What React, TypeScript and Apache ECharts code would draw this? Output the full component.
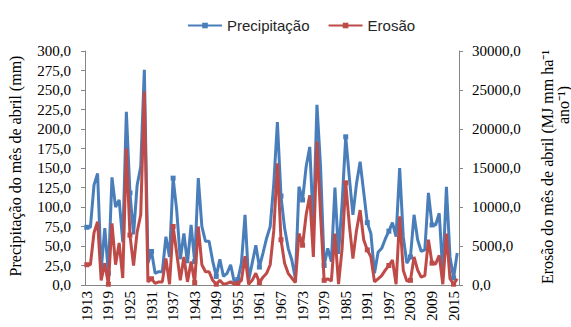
import React, { useEffect, useRef } from "react";
import * as echarts from "echarts";

const years = [
  "1913","1914","1915","1916","1917","1918","1919","1920","1921","1922",
  "1923","1924","1925","1926","1927","1928","1929","1930","1931","1932",
  "1933","1934","1935","1936","1937","1938","1939","1940","1941","1942",
  "1943","1944","1945","1946","1947","1948","1949","1950","1951","1952",
  "1953","1954","1955","1956","1957","1958","1959","1960","1961","1962",
  "1963","1964","1965","1966","1967","1968","1969","1970","1971","1972",
  "1973","1974","1975","1976","1977","1978","1979","1980","1981","1982",
  "1983","1984","1985","1986","1987","1988","1989","1990","1991","1992",
  "1993","1994","1995","1996","1997","1998","1999","2000","2001","2002",
  "2003","2004","2005","2006","2007","2008","2009","2010","2011","2012",
  "2013","2014","2015","2016",
];

// Precipitação do mês de abril (mm)
const precipitacao = [
  74, 74, 128, 143, 19, 73, 15, 138, 100, 109,
  55, 222, 118, 65, 128, 152, 276, 28, 43, 15,
  17, 17, 62, 36, 137, 96, 33, 66, 28, 77,
  30, 137, 75, 56, 56, 31, 11, 33, 11, 15,
  26, 4, 7, 28, 90, 6, 28, 51, 23, 41,
  60, 75, 130, 209, 114, 73, 47, 32, 8, 126,
  109, 152, 177, 75, 231, 152, 25, 47, 30, 125,
  40, 105, 190, 138, 90, 130, 158, 119, 80, 66,
  15, 42, 47, 59, 69, 80, 62, 150, 62, 28,
  36, 90, 58, 43, 45, 118, 77, 77, 92, 15,
  126, 36, 9, 41,
];

// Erosão do mês de abril (MJ mm ha-1 ano-1)
const erosao = [
  2600, 2600, 6700, 8100, 600, 2800, 100, 7900, 2600, 5400,
  900, 17500, 6400, 2500, 6800, 9000, 24800, 400, 800, 200,
  400, 400, 3400, 100, 7500, 4100, 600, 3600, 400, 3000,
  300, 7500, 2600, 1700, 1700, 600, 100, 600, 100, 200,
  400, 100, 200, 600, 3700, 100, 600, 1500, 300, 1000,
  1500, 2600, 7000, 15600, 5800, 2800, 1500, 900, 300, 6600,
  5100, 9000, 11500, 3600, 18400, 9000, 600, 800, 500, 6600,
  100, 4700, 13100, 7700, 3400, 7000, 9600, 5800, 4500, 3600,
  400, 800, 1200, 1900, 2500, 3200, 100, 8800, 1900, 500,
  600, 3600, 1900, 1000, 1200, 5800, 2800, 2700, 3800, 100,
  6600, 800, 100, 800,
];

const BLUE = "#4A7EBB";
const RED = "#BE4B48";
const AXIS = "#868686";
const SERIF = "'Liberation Serif', 'Times New Roman', serif";
const SANS = "'Liberation Sans', Arial, sans-serif";

const fmt = (v: number) => v.toFixed(1).replace(".", ",");

export default function App() {
  const ref = useRef<HTMLDivElement>(null);
  useEffect(() => {
    if (!ref.current) return;
    const chart = echarts.init(ref.current, null, { renderer: "svg" });
    chart.setOption({
      animation: false,
      backgroundColor: "#ffffff",
      textStyle: { fontFamily: SERIF },
      legend: {
        left: 182,
        top: 13,
        itemWidth: 34,
        itemHeight: 7,
        itemGap: 18,
        textStyle: { fontFamily: SANS, fontSize: 15, color: "#262626" },
        data: ["Precipitação", "Erosão"],
      },
      grid: { left: 85, right: 112, top: 51, bottom: 42, containLabel: false },
      xAxis: {
        type: "category",
        data: years,
        boundaryGap: true,
        axisLine: { lineStyle: { color: AXIS, width: 1 } },
        axisTick: { show: false },
        axisLabel: {
          interval: 5,
          rotate: 90,
          fontSize: 15,
          fontFamily: SERIF,
          color: "#000",
          margin: 6,
        },
        splitLine: { show: false },
      },
      yAxis: [
        {
          type: "value",
          min: 0,
          max: 300,
          interval: 25,
          position: "left",
          splitLine: { show: false },
          axisLine: { show: true, lineStyle: { color: AXIS, width: 1 } },
          axisTick: { show: true, length: 4, lineStyle: { color: AXIS } },
          axisLabel: {
            formatter: fmt,
            fontSize: 15,
            fontFamily: SERIF,
            color: "#000",
            margin: 14,
          },
        },
        {
          type: "value",
          min: 0,
          max: 30000,
          interval: 5000,
          position: "right",
          splitLine: { show: false },
          axisLine: { show: true, lineStyle: { color: AXIS, width: 1 } },
          axisTick: { show: true, length: 4, lineStyle: { color: AXIS } },
          axisLabel: {
            formatter: fmt,
            fontSize: 15,
            fontFamily: SERIF,
            color: "#000",
            margin: 13,
          },
        },
      ],
      graphic: [
        {
          type: "text",
          x: 15,
          y: 166,
          rotation: Math.PI / 2,
          style: {
            text: "Precipitação do mês de abril (mm)",
            fontSize: 16,
            fontFamily: SERIF,
            fill: "#000",
            align: "center",
            verticalAlign: "middle",
          },
        },
        {
          type: "text",
          x: 547,
          y: 167,
          rotation: Math.PI / 2,
          style: {
            text: "Erosão do mês de abril (MJ mm ha⁻¹",
            fontSize: 16,
            fontFamily: SERIF,
            fill: "#000",
            align: "center",
            verticalAlign: "middle",
          },
        },
        {
          type: "text",
          x: 563,
          y: 105,
          rotation: Math.PI / 2,
          style: {
            text: "ano⁻¹)",
            fontSize: 16,
            fontFamily: SERIF,
            fill: "#000",
            align: "center",
            verticalAlign: "middle",
          },
        },
      ],
      series: [
        {
          name: "Precipitação",
          type: "line",
          yAxisIndex: 0,
          data: precipitacao,
          symbol: "rect",
          symbolSize: 5,
          lineStyle: { color: BLUE, width: 3 },
          itemStyle: { color: BLUE },
          z: 2,
        },
        {
          name: "Erosão",
          type: "line",
          yAxisIndex: 1,
          data: erosao,
          symbol: "rect",
          symbolSize: 5,
          lineStyle: { color: RED, width: 3 },
          itemStyle: { color: RED },
          z: 3,
        },
      ],
    });
    return () => chart.dispose();
  }, []);
  return (
    <div
      ref={ref}
      style={{ position: "fixed", left: 0, top: 0, width: 571, height: 327 }}
    />
  );
}
